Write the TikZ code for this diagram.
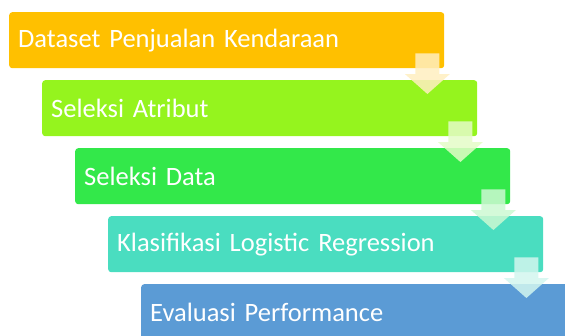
\documentclass[tikz,border=0pt]{standalone}
\usepackage{fontspec}
\setmainfont[WordSpace=0.8]{Carlito}
\usepackage{xcolor}
\usepackage{tikz}
\usetikzlibrary{calc}

% Fill colours of the five stages
\definecolor{stageA}{HTML}{FFC000}
\definecolor{stageB}{HTML}{95F41E}
\definecolor{stageC}{HTML}{33E84A}
\definecolor{stageD}{HTML}{4ADDC0}
\definecolor{stageE}{HTML}{5B9BD5}

\tikzset{
  stage/.style={anchor=north west, rounded corners=3pt, text=white,
    text width=417pt, inner sep=9pt, minimum height=56pt, align=left,
    font=\fontsize{26.5}{30}\selectfont},
  flow/.style={opacity=0.85}
}

\begin{document}
\begin{tikzpicture}[x=1pt, y=-1pt]
        \useasboundingbox (0,0) rectangle (565,335);

        % Stage boxes, each one shifted right and down from the one before
        \foreach[count=\i] \col/\label in {
            stageA/Dataset Penjualan Kendaraan,
            stageB/Seleksi Atribut,
            stageC/Seleksi Data,
            stageD/Klasifikasi Logistic Regression,
            stageE/Evaluasi Performance}{
            \node[stage, fill=\col] (box-\i) at ({9+33*(\i-1)}, {12+68*(\i-1)}) {\label};
        }

        % Block arrows from each box down into the next one
        \foreach \i/\j/\col in {1/2/stageA, 2/3/stageB, 3/4/stageC, 4/5/stageD}{
            \coordinate (top-\i) at ($(box-\i.south east)+(-17,-15)$);
            \coordinate (tip-\i) at ($(top-\i |- box-\j.north)+(0,14)$);
            \fill[flow, fill=\col!25!white] ($(top-\i)+(-12,0)$) -- ($(top-\i)+(12,0)$)
                -- ($(tip-\i)+(12,-20)$) -- ($(tip-\i)+(22.5,-20)$) -- (tip-\i)
                -- ($(tip-\i)+(-22.5,-20)$) -- ($(tip-\i)+(-12,-20)$) -- cycle;
        }
\end{tikzpicture}
\end{document}
